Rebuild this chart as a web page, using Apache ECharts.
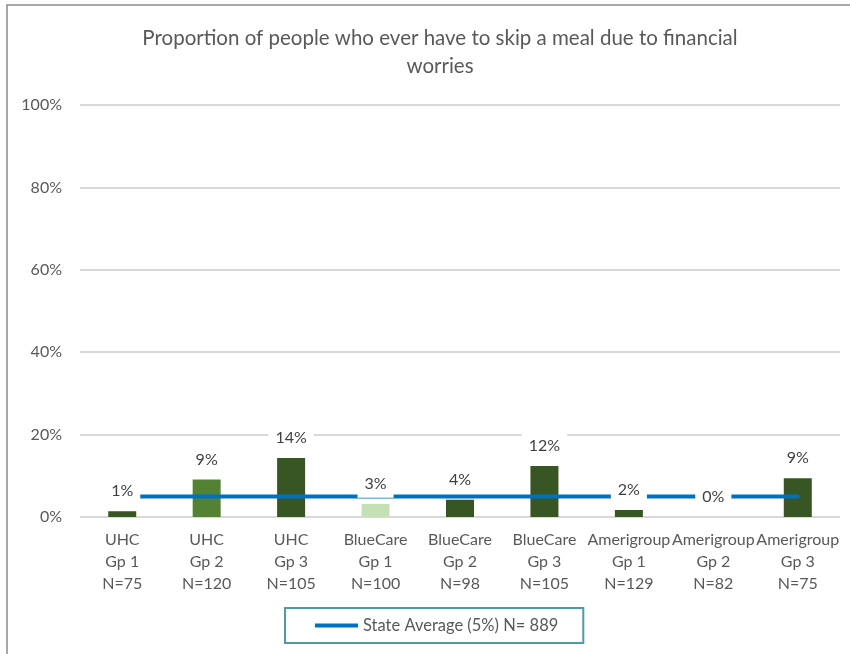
<!DOCTYPE html>
<html>
<head>
<meta charset="utf-8">
<script src="https://cdn.jsdelivr.net/npm/echarts@6/dist/echarts.min.js"></script>
<style>
html,body{margin:0;padding:0;background:#fff;}
#chart{width:850px;height:654px;}
</style>
</head>
<body>
<div id="chart"></div>
<script>
const titleText = 'Proportion of people who ever have to skip a meal due to financial\nworries';
const categories = [
  'UHC\nGp 1\nN=75', 'UHC\nGp 2\nN=120', 'UHC\nGp 3\nN=105',
  'BlueCare\nGp 1\nN=100', 'BlueCare\nGp 2\nN=98', 'BlueCare\nGp 3\nN=105',
  'Amerigroup\nGp 1\nN=129', 'Amerigroup\nGp 2\nN=82', 'Amerigroup\nGp 3\nN=75'
];
const groupValues = [1.4, 9.1, 14.3, 3.2, 4.2, 12.4, 1.7, 0, 9.4];
const barColors = ['#375623', '#548235', '#375623', '#C5E0B4', '#375623', '#375623', '#375623', '#375623', '#375623'];
const stateAverageName = 'State Average (5%) N= 889';
const stateAverage = [5, 5, 5, 5, 5, 5, 5, 5, 5];
const yTicks = [0, 20, 40, 60, 80, 100];

const FONT = 'Lato';
const chart = echarts.init(document.getElementById('chart'), null, {renderer: 'canvas'});
chart.setOption({
  animation: false,
  backgroundColor: '#fff',
  textStyle: {fontFamily: FONT},
  title: {
    text: titleText,
    left: 435,
    top: 19,
    textAlign: 'center',
    textStyle: {fontFamily: FONT, fontSize: 20.5, fontWeight: 'normal', color: '#595959', lineHeight: 28}
  },
  graphic: [{
    type: 'polyline',
    shape: {points: [[7, 660], [7, 5], [856, 5]]},
    style: {stroke: '#8a8a8a', lineWidth: 1.5, fill: null},
    silent: true
  }],
  legend: {
    data: [stateAverageName],
    left: 285,
    top: 608,
    padding: [9, 25, 9, 30],
    borderColor: '#4F9BA3',
    borderWidth: 2,
    icon: 'rect',
    itemWidth: 43,
    itemHeight: 4,
    textStyle: {fontFamily: FONT, fontSize: 16.5, color: '#595959'}
  },
  grid: {left: 80, right: 10, top: 105, bottom: 137, containLabel: false},
  xAxis: {
    type: 'category',
    data: categories,
    axisLine: {show: false},
    axisTick: {show: false},
    axisLabel: {fontFamily: FONT, fontSize: 16, color: '#595959', lineHeight: 22, margin: 12, interval: 0}
  },
  yAxis: {
    type: 'value',
    min: yTicks[0],
    max: yTicks[yTicks.length - 1],
    interval: 20,
    axisLine: {show: false},
    axisTick: {show: false},
    splitLine: {lineStyle: {color: '#d9d9d9', width: 2}},
    axisLabel: {fontFamily: FONT, fontSize: 16, color: '#595959', margin: 18, formatter: v => v + '%'}
  },
  series: [
    {
      type: 'bar',
      name: 'bars',
      data: groupValues.map((v, i) => ({value: v, itemStyle: {color: barColors[i]}})),
      barWidth: 28,
      z: 2,
      silent: true
    },
    {
      type: 'line',
      name: stateAverageName,
      data: stateAverage,
      symbol: 'none',
      lineStyle: {color: '#0070C0', width: 4, cap: 'round'},
      itemStyle: {color: '#0070C0'},
      z: 3,
      silent: true
    },
    {
      type: 'bar',
      name: 'labels',
      data: groupValues,
      barWidth: 28,
      barGap: '-100%',
      itemStyle: {color: 'rgba(0,0,0,0)'},
      z: 4,
      silent: true,
      label: {
        show: true,
        position: 'top',
        distance: 6,
        formatter: p => Math.round(p.value) + '%',
        fontFamily: FONT,
        fontSize: 16,
        color: '#404040',
        backgroundColor: '#fff',
        padding: [5, 7],
        lineHeight: 18
      }
    }
  ]
});
</script>
</body>
</html>
